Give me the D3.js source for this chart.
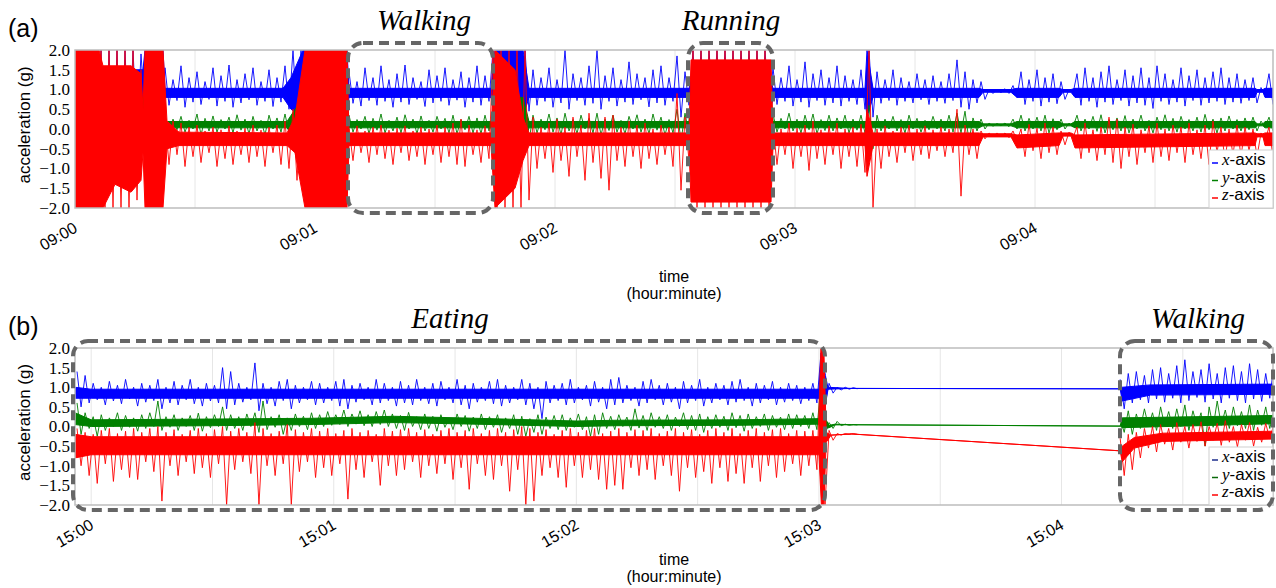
<!DOCTYPE html>
<html>
<head>
<meta charset="utf-8">
<script src="https://cdn.jsdelivr.net/npm/d3@7"></script>
<style>
body { margin: 0; background: #fff; }
svg text { font-family: "Liberation Sans", Arial, sans-serif; fill: #000; }
</style>
</head>
<body>
<div id="chart"></div>
<script>
// ---------- data: panel (a), 09:00 - 09:05, envelope per 2 s bin ----------
let aTickLabels = ['09:00', '09:01', '09:02', '09:03', '09:04'];
let bTickLabels = ['15:00', '15:01', '15:02', '15:03', '15:04'];
let tickSeconds = [0, 60, 120, 180, 240];
let yTicks = [2.0, 1.5, 1.0, 0.5, 0.0, -0.5, -1.0, -1.5, -2.0];

let aBlueHi = [2.0,2.0,2.0,2.0,2.0,2.0,2.0,2.0,1.9, 2.0,2.0,
  1.55,1.25,1.6,1.3,1.45,1.2,1.55,1.35,1.62,1.25,1.4,1.55,1.2,1.5,1.3,1.6, 2.0,2.0, 2.0,2.0,2.0,2.0,2.0,
  1.45,1.2,1.55,1.3,1.6,1.25,1.4,1.62,1.3,1.2,1.5,1.35,1.55,1.25,1.45,1.3,1.6,1.35,2.0, 2.0,2.0,2.0,2.0,
  1.5,1.3,1.55,1.25,2.0,1.4,1.3,1.6,2.0,1.35,1.55,1.25,1.7,1.4,1.3,1.5,1.6,1.3,1.85,1.45,
  2.0,2.0,2.0,2.0,2.0,2.0,2.0,2.0,2.0,2.0,
  1.55,1.3,1.6,1.25,1.7,1.4,1.5,1.3,1.6,1.35,1.25,1.5, 2.0,
  1.45,1.25,1.5,1.3,1.2,1.4,1.25,1.35,1.2,1.4,1.75,1.45,1.25, 1.2,1.0,1.0,1.02,1.1,
  1.45,1.25,1.5,1.3,1.4,1.2, 1.0,
  1.4,1.55,1.3,1.45,1.6,1.25,1.5,1.35,1.55,1.3,1.6,1.4,1.25,1.55,1.35,1.5,1.3,1.45,1.55,1.3,1.4,1.25,1.3, 1.05, 1.4];
let aBlueLo = [-1.0,-1.5,-1.6,-1.2,-0.8,-1.0,-0.5,-0.2,0.4, -1.0,-0.5,
  0.6,0.72,0.55,0.68,0.62,0.75,0.58,0.7,0.55,0.66,0.74,0.6,0.7,0.57,0.68,0.5, 0.3,0.25, -0.5,-1.0,-1.0,-0.8,0.0,
  0.65,0.58,0.72,0.6,0.7,0.55,0.68,0.62,0.75,0.57,0.66,0.7,0.6,0.73,0.55,0.68,0.6,0.7,0.3, 0.0,0.3,0.3,0.45,
  0.6,0.7,0.55,0.66,0.5,0.72,0.6,0.65,0.5,0.7,0.58,0.68,0.62,0.74,0.56,0.66,0.6,0.7,0.3,0.6,
  0.0,-0.5,0.5,0.2,0.0,-0.3,0.3,0.1,0.0,0.5,
  0.62,0.7,0.58,0.68,0.55,0.72,0.6,0.66,0.58,0.7,0.62,0.5, 0.3,
  0.65,0.72,0.6,0.7,0.66,0.74,0.62,0.7,0.65,0.72,0.55,0.5,0.66, 0.75,0.9,0.92,0.9,0.8,
  0.62,0.7,0.58,0.68,0.64,0.75, 0.9,
  0.6,0.7,0.55,0.68,0.62,0.72,0.58,0.66,0.6,0.52,0.7,0.62,0.68,0.58,0.72,0.6,0.66,0.7,0.62,0.68,0.65,0.72,0.66, 0.85, 0.62];
let aGreenHi = [1.0,0.8,0.5,0.6,0.3,0.5,0.4,0.6,0.5, 0.5,0.4,
  0.35,0.25,0.32,0.22,0.38,0.27,0.33,0.24,0.3,0.36,0.25,0.32,0.22,0.35,0.28,0.38, 0.4,0.35, 0.5,0.5,0.5,0.5,0.4,
  0.35,0.24,0.32,0.27,0.38,0.22,0.3,0.36,0.25,0.33,0.22,0.32,0.27,0.35,0.24,0.32,0.28,0.35,0.4, 0.5,0.5,0.4,0.4,
  0.35,0.25,0.38,0.28,0.4,0.24,0.35,0.27,0.4,0.25,0.35,0.22,0.32,0.36,0.25,0.38,0.3,0.24,0.5,0.4,
  0.5,0.5,0.5,0.5,0.5,0.5,0.5,0.5,0.5,0.5,
  0.38,0.27,0.4,0.25,0.35,0.38,0.24,0.35,0.28,0.35,0.25,0.35, 0.6,
  0.35,0.25,0.32,0.24,0.35,0.27,0.22,0.32,0.25,0.35,0.4,0.45,0.28, 0.25,0.15,0.14,0.15,0.25,
  0.35,0.27,0.3,0.35,0.26,0.25, 0.15,
  0.35,0.25,0.32,0.36,0.24,0.28,0.34,0.25,0.35,0.22,0.3,0.36,0.27,0.32,0.24,0.3,0.37,0.25,0.28,0.33,0.24,0.28,0.3, 0.2, 0.3];
let aGreenLo = [-1.0,-1.2,-0.8,-0.6,-0.9,-0.5,-0.4,-0.3,-0.2, -0.8,-0.5,
  -0.1,-0.02,-0.08,0.0,-0.15,-0.05,-0.08,0.0,-0.1,-0.03,-0.12,-0.05,-0.15,0.0,-0.08,-0.1, -0.15,-0.2, -0.8,-0.6,-0.6,-0.5,-0.3,
  -0.08,0.0,-0.12,-0.03,-0.1,-0.05,-0.1,0.0,-0.12,-0.05,-0.08,0.0,-0.1,-0.12,-0.02,-0.1,-0.12,-0.05,-0.2, -0.5,-0.5,-0.4,-0.3,
  -0.1,-0.02,-0.08,-0.15,-0.05,-0.12,0.0,-0.1,-0.15,-0.04,-0.08,-0.12,0.0,-0.08,-0.12,-0.03,-0.15,-0.1,-0.3,-0.15,
  -0.5,-0.5,-0.5,-0.5,-0.5,-0.5,-0.5,-0.5,-0.5,-0.5,
  -0.08,0.0,-0.05,-0.1,-0.02,-0.12,-0.04,-0.05,0.0,-0.1,-0.03,-0.1, -0.5,
  -0.05,0.0,-0.05,-0.1,0.0,-0.08,-0.02,0.0,-0.05,-0.08,-0.1,-0.3,-0.05, 0.0,0.07,0.08,0.06,0.0,
  -0.05,0.0,-0.05,-0.1,-0.02,0.0, 0.05,
  -0.05,0.0,-0.06,-0.1,-0.02,-0.05,-0.1,0.0,-0.05,-0.1,-0.02,-0.05,-0.08,0.0,-0.05,-0.08,-0.02,-0.1,-0.05,0.0,-0.05,-0.02,-0.05, 0.05, -0.05];
let aRedHi = [2.0,2.0,2.0,2.0,2.0,2.0,2.0,2.0,1.5, 2.0,2.0,
  0.35,0.2,0.15,0.05,0.1,-0.05,0.05,-0.02,0.08,-0.05,0.02,0.1,-0.03,0.05,0.1,0.2, 0.5,0.45, 2.0,2.0,2.0,2.0,2.0,
  0.0,0.08,-0.05,0.05,0.1,-0.03,0.02,0.08,-0.05,0.05,0.0,0.1,0.05,0.15,0.25,0.1,-0.02,0.08,2.0, 2.0,2.0,2.0,2.0,
  0.3,0.05,0.15,0.25,0.05,0.3,0.1,0.4,0.2,0.3,0.35,0.05,0.2,0.1,0.15,0.0,0.1,0.05,0.9,0.3,
  2.0,2.0,2.0,2.0,2.0,2.0,2.0,2.0,2.0,2.0,
  0.1,0.0,0.15,0.02,0.1,0.2,-0.02,0.08,0.15,0.0,0.05,0.12, 2.0,
  0.0,0.08,-0.05,0.05,0.1,0.0,0.08,-0.02,0.05,0.0,0.5,0.1,0.0, -0.05,-0.1,-0.1,-0.1,-0.05,
  0.0,0.12,0.02,0.15,0.05,-0.05, -0.08,
  0.05,0.15,-0.02,0.05,0.3,0.25,0.05,0.12,-0.02,0.08,0.15,0.0,0.1,0.05,0.15,-0.02,0.1,0.2,0.05,0.0,0.1,0.05,0.0, -0.1, 0.05];
let aRedLo = [-2.0,-2.0,-2.0,-2.0,-2.0,-2.0,-2.0,-1.8,-1.0, -2.0,-2.0,
  -0.9,-0.65,-0.95,-0.7,-0.85,-0.6,-0.95,-0.75,-0.9,-0.65,-0.85,-0.7,-0.95,-0.6,-0.9,-1.0, -1.3,-1.5, -2.0,-2.0,-2.0,-2.0,-2.0,
  -0.8,-0.6,-0.85,-0.65,-0.75,-0.9,-0.6,-0.8,-0.7,-0.9,-0.65,-0.85,-0.7,-0.9,-0.95,-0.65,-0.85,-0.75,-2.0, -2.0,-2.0,-2.0,-1.8,
  -1.0,-0.75,-1.1,-0.8,-1.2,-0.7,-1.3,-0.85,-1.25,-1.55,-0.8,-0.95,-0.7,-1.0,-0.75,-0.9,-0.65,-0.95,-1.55,-0.8,
  -2.0,-2.0,-2.0,-2.0,-2.0,-2.0,-2.0,-2.0,-2.0,-2.0,
  -0.9,-0.65,-1.0,-0.7,-1.05,-0.75,-0.9,-0.65,-1.0,-0.7,-0.95,-1.1, -2.0,
  -1.0,-0.7,-0.85,-0.6,-0.8,-0.65,-0.75,-0.55,-0.7,-0.6,-1.7,-0.65,-0.75, -0.25,-0.2,-0.2,-0.22,-0.3,
  -0.7,-0.55,-0.75,-0.6,-0.65,-0.4, -0.22,
  -0.75,-0.6,-0.8,-0.65,-0.85,-1.0,-0.7,-0.9,-0.6,-0.85,-0.7,-0.8,-0.6,-0.85,-0.65,-0.75,-0.9,-0.6,-0.8,-0.65,-0.7,-0.55,-0.7, -0.3, -0.7];

// dense band of each signal: [seconds, low, high]
let aBlueCore = [[0,0.0,1.5],[16.5,0.0,1.5],[17,0.5,1.5],[17.5,0.0,2.0],[22,0.0,2.0],[22.5,0.8,1.03],[52,0.8,1.03],[54,0.5,1.3],[57,0.3,2.0],[68,0.3,2.0],[68.5,0.8,1.03],[104,0.8,1.03],[105,0.3,2.0],[112,0.3,2.0],[113.5,0.8,1.03],[153.5,0.8,1.03],[154,0.5,1.2],[174,0.5,1.2],[174.5,0.8,1.03],[197.5,0.8,1.03],[198,0.3,2.0],[199.5,0.8,1.03],[226,0.8,1.03],[227,0.93,1.0],[234,0.93,1.0],[235.5,0.8,1.03],[246,0.8,1.03],[247,0.93,1.0],[249,0.93,1.0],[250,0.8,1.03],[295,0.8,1.03],[295.5,0.93,1.0],[297,0.93,1.0],[297.5,0.8,1.03],[299.5,0.8,1.03]];
let aGreenCore = [[0,-0.5,0.8],[22,-0.5,0.8],[22.5,0.03,0.19],[53,0.03,0.19],[57,-0.5,0.8],[68,-0.5,0.8],[68.5,0.03,0.19],[104,0.03,0.19],[105,-0.5,0.8],[112,-0.5,0.8],[113.5,0.03,0.19],[153.5,0.03,0.19],[154,-0.5,0.8],[174,-0.5,0.8],[174.5,0.03,0.19],[226,0.03,0.19],[227,0.08,0.13],[234,0.08,0.13],[235.5,0.03,0.19],[246,0.03,0.19],[247,0.08,0.13],[249,0.08,0.13],[250,0.03,0.19],[295,0.03,0.19],[295.5,0.08,0.13],[297,0.08,0.13],[297.5,0.03,0.19],[299.5,0.03,0.19]];
let aRedCore = [[0,-2.0,2.0],[6,-2.0,2.0],[7,-2.0,1.6],[10,-1.4,1.6],[14,-1.6,1.6],[16.5,-1.3,1.4],[17,-0.6,0.5],[17.5,-2.0,2.0],[22,-2.0,2.0],[23,-0.5,0.2],[26,-0.42,-0.08],[53,-0.42,-0.1],[55,-0.6,0.3],[57.5,-2.0,2.0],[68,-2.0,2.0],[68.5,-0.42,-0.1],[104,-0.42,-0.1],[105,-2.0,2.0],[110,-1.5,1.5],[112,-0.8,0.3],[113.5,-0.42,-0.1],[153.5,-0.42,-0.1],[154,-1.85,1.75],[174,-1.85,1.75],[174.5,-0.42,-0.1],[197.5,-0.42,-0.1],[198,-1.2,0.5],[199.5,-0.42,-0.1],[226,-0.42,-0.1],[227,-0.2,-0.12],[234,-0.2,-0.12],[235.5,-0.48,-0.15],[246,-0.42,-0.1],[247,-0.18,-0.1],[249,-0.18,-0.1],[250,-0.48,-0.15],[295,-0.42,-0.1],[295.5,-0.2,-0.12],[297,-0.2,-0.12],[297.5,-0.42,-0.1],[299.5,-0.42,-0.1]];

// ---------- data: panel (b), 15:00 - 15:05, bins start at -4 s ----------
let noData = [null,null,null,null,null,null,null,null,null,null,null,null,null,null,null,null,
  null,null,null,null,null,null,null,null,null,null,null,null,null,null,null,null];

let bBlueHi = [1.4,1.3,1.1,1.0,1.15,1.05,1.2,1.0,1.1,1.05, 1.2,1.0,1.15,1.05,1.2,1.0,1.1,1.05,1.5,1.4,
  1.1,1.0,1.62,1.1,1.0,1.15,1.2,1.05,1.0,1.15, 1.1,1.0,1.15,1.2,1.05,1.1,1.0,1.2,1.1,1.0,
  1.15,1.05,1.2,1.0,1.1,1.15,1.0,1.2,1.05,1.1, 1.0,1.15,1.2,1.05,1.0,1.2,1.1,1.0,1.15,1.05,
  1.1,1.2,1.0,1.05,1.15,1.0,1.2,1.25,1.05,1.0, 1.15,1.2,1.05,1.1,1.0,1.15,1.05,1.2,1.0,1.1,
  1.05,1.15,1.2,1.0,1.1,1.05,1.15,1.0,1.1,1.05, 1.0,1.1,1.87, 1.1,1.0,1.0,0.99,
  ...noData,
  1.2,1.35,1.4,1.3,1.45,1.5,1.35,1.55,1.7,1.4,1.45,1.6,1.35,1.5,1.55,1.4,1.6,1.45,1.35,1.55];
let bBlueLo = [0.5,0.6,0.68,0.55,0.65,0.58,0.7,0.52,0.62,0.66, 0.45,0.6,0.55,0.68,0.58,0.52,0.65,0.6,0.45,0.55,
  0.62,0.68,0.4,0.58,0.52,0.66,0.45,0.6,0.68,0.55, 0.6,0.66,0.52,0.45,0.62,0.68,0.55,0.6,0.66,0.52,
  0.6,0.55,0.66,0.58,0.52,0.68,0.6,0.55,0.45,0.62, 0.66,0.58,0.52,0.6,0.68,0.55,0.45,0.2,0.6,0.66,
  0.55,0.6,0.68,0.52,0.62,0.45,0.55,0.6,0.66,0.52, 0.6,0.68,0.55,0.62,0.45,0.6,0.66,0.52,0.6,0.68,
  0.55,0.62,0.66,0.52,0.6,0.68,0.55,0.62,0.66,0.58, 0.66,0.6,0.5, 0.85,0.93,0.95,0.96,
  ...noData,
  0.45,0.6,0.68,0.6,0.7,0.62,0.72,0.6,0.66,0.74,0.62,0.7,0.6,0.72,0.66,0.6,0.7,0.64,0.72,0.62];
let bGreenHi = [0.6,0.35,0.25,0.3,0.22,0.35,0.28,0.22,0.3,0.35, 0.65,0.25,0.3,0.22,0.28,0.34,0.25,0.3,0.5,0.3,
  0.25,0.32,0.35,0.65,0.25,0.3,0.22,0.32,0.26,0.35, 0.3,0.38,0.3,0.42,0.32,0.4,0.3,0.38,0.42,0.32,
  0.28,0.36,0.25,0.32,0.26,0.3,0.22,0.32,0.28,0.24, 0.32,0.25,0.3,0.22,0.3,0.26,0.2,0.3,0.24,0.28,
  0.3,0.22,0.32,0.25,0.3,0.35,0.26,0.3,0.24,0.45, 0.28,0.35,0.25,0.3,0.24,0.35,0.28,0.32,0.25,0.3,
  0.26,0.35,0.28,0.32,0.25,0.32,0.28,0.24,0.32,0.3, 0.28,0.35,1.1, 0.1,0.13,0.06,0.05,
  ...noData,
  0.2,0.4,0.32,0.45,0.35,0.5,0.38,0.45,0.55,0.4,0.35,0.5,0.65,0.42,0.5,0.38,0.55,0.42,0.5,0.4];
let bGreenLo = [-0.2,-0.05,-0.25,-0.1,0.0,-0.1,-0.02,-0.12,-0.05,0.0, -0.1,-0.02,-0.1,0.0,-0.1,-0.12,-0.03,0.0,-0.1,-0.05,
  -0.1,0.0,-0.15,-0.08,-0.02,-0.2,-0.1,0.0,-0.08,-0.05, 0.0,0.03,0.05,0.0,0.06,0.02,0.0,0.05,0.0,-0.05,
  -0.1,0.0,-0.08,-0.05,-0.12,-0.02,-0.08,0.0,-0.12,-0.05, -0.08,-0.02,-0.15,-0.05,-0.2,-0.25,-0.15,-0.2,-0.05,-0.08,
  -0.1,-0.02,-0.08,-0.25,-0.2,-0.05,-0.08,0.0,-0.1,-0.04, -0.1,-0.02,-0.05,-0.1,0.0,-0.08,-0.1,-0.15,-0.05,-0.02,
  -0.1,-0.03,-0.12,-0.05,0.0,-0.1,-0.02,-0.08,-0.05,0.0, -0.05,-0.08,-0.2, -0.05,0.02,0.03,0.04,
  ...noData,
  -0.15,-0.2,-0.05,0.0,-0.1,0.02,-0.05,0.0,-0.1,0.02,-0.5,-0.02,0.03,-0.05,0.02,-0.05,-0.1,0.03,-0.05,0.02];
let bRedHi = [-0.05,-0.15,-0.2,-0.1,-0.05,-0.18,-0.12,-0.05,-0.15,-0.05, 0.0,-0.15,-0.08,-0.2,-0.1,-0.05,-0.18,-0.08,0.0,-0.12,
  -0.05,-0.15,0.1,-0.05,-0.18,-0.12,0.05,-0.08,-0.15,-0.05, -0.12,-0.05,-0.18,-0.1,-0.05,-0.15,-0.1,-0.2,-0.05,-0.12,
  -0.08,-0.05,-0.15,-0.08,-0.2,-0.1,-0.05,-0.15,-0.1,-0.05, -0.18,-0.1,-0.05,-0.15,-0.08,0.0,-0.05,-0.15,-0.08,-0.2,
  -0.1,-0.05,-0.15,-0.1,-0.05,-0.18,-0.12,-0.05,-0.15,-0.08, -0.1,-0.05,-0.18,-0.12,-0.05,-0.15,-0.08,-0.2,-0.1,-0.05,
  -0.15,-0.05,-0.18,-0.1,-0.05,-0.15,-0.08,-0.05,-0.18,-0.1, -0.12,-0.1,2.0, -0.1,-0.18,-0.18,-0.18,
  ...noData,
  -0.3,-0.2,-0.15,-0.05,0.0,0.05,-0.05,0.1,0.0,0.05,0.12,0.0,0.08,0.15,0.0,0.05,0.1,-0.02,0.08,0.05];
let bRedLo = [-1.0,-1.25,-1.45,-0.95,-1.4,-1.1,-1.3,-1.35,-0.9,-1.15, -1.9,-1.0,-1.25,-0.9,-1.2,-1.05,-1.3,-0.95,-2.0,-1.1,
  -0.9,-1.2,-2.0,-1.0,-1.25,-0.95,-2.0,-1.15,-0.9,-1.3, -1.05,-1.25,-0.95,-1.85,-1.1,-1.3,-0.9,-1.5,-1.0,-1.25,
  -1.1,-0.9,-1.3,-1.0,-1.2,-0.95,-1.35,-1.05,-1.6,-0.95, -1.25,-1.35,-1.0,-1.65,-1.1,-2.0,-1.9,-1.25,-1.05,-1.3,
  -1.55,-1.0,-1.3,-1.1,-1.35,-1.6,-1.5,-1.6,-1.05,-1.25, -1.1,-1.35,-1.0,-1.25,-1.65,-1.05,-1.3,-1.15,-1.45,-1.05,
  -1.4,-1.2,-1.45,-1.05,-1.4,-1.0,-1.3,-1.15,-0.95,-1.25, -1.0,-1.1,-2.0, -0.35,-0.22,-0.2,-0.2,
  ...noData,
  -1.25,-1.1,-0.8,-0.55,-0.65,-0.45,-0.6,-0.4,-0.55,-0.38,-0.5,-0.35,-0.48,-0.4,-0.52,-0.35,-0.5,-0.4,-0.32,-0.45];

let bBlueCore = [[-4,0.72,1.0],[0,0.72,0.95],[180,0.72,0.95],[180.6,0.5,1.9],[181.6,0.6,1.3],[182.2,0.95,1.0],[188,0.97,0.97],[254.5,0.96,0.96],[255,0.65,1.0],[262,0.8,1.06],[292.3,0.82,1.08]];
let bGreenCore = [[-4,0.05,0.35],[0,0.0,0.17],[30,0.02,0.19],[55,0.05,0.21],[75,0.1,0.26],[95,0.06,0.21],[120,0.0,0.14],[130,0.02,0.16],[160,0.03,0.17],[180,0.06,0.2],[180.6,-0.1,1.1],[181.6,-0.05,0.2],[182.5,-0.03,0.03],[184,0.04,0.06],[188,0.045,0.045],[254.5,0.01,0.01],[255,-0.03,0.22],[292.3,0.07,0.28]];
let bRedCore = [[-4,-0.8,-0.2],[0,-0.72,-0.26],[180,-0.72,-0.26],[180.6,-2.0,2.0],[181.2,-2.0,2.0],[181.8,-0.4,-0.15],[183,-0.22,-0.22],[188,-0.19,-0.19],[254.5,-0.62,-0.62],[255,-0.9,-0.5],[258,-0.55,-0.28],[265,-0.38,-0.17],[292.3,-0.32,-0.12]];

// ---------- layout ----------
let svgWidth = 1276;
let svgHeight = 588;
let plotLeft = 75;
let plotRight = 1273;

let svg = d3.select('#chart')
    .append('svg')
    .attr('width', svgWidth)
    .attr('height', svgHeight);

let panels = [
    {
        name: 'a', tag: '(a)', top: 50, bottom: 208, domain: [0, 299.5], start: 0, step: 2,
        grid: [30, 60, 90, 120, 150, 180, 210, 240, 270], tickLabels: aTickLabels,
        timeY: [282, 299], legendTop: 150, legendColors: ['#0000ff', '#008000', '#ff0000'],
        series: [
            { color: '#0000ff', core: aBlueCore, hi: aBlueHi, lo: aBlueLo },
            { color: '#008000', core: aGreenCore, hi: aGreenHi, lo: aGreenLo },
            { color: '#ff0000', core: aRedCore, hi: aRedHi, lo: aRedLo }
        ],
        boxes: [
            { x0: 348, x1: 493, label: 'Walking', lx: 424 },
            { x0: 688, x1: 773, label: 'Running', lx: 731 }
        ]
    },
    {
        name: 'b', tag: '(b)', top: 348, bottom: 505, domain: [-4, 292.3], start: -4, step: 2,
        grid: [0, 30, 60, 90, 120, 150, 180, 210, 240, 270], tickLabels: bTickLabels,
        timeY: [565, 582], legendTop: 447, legendColors: ['#1c2e8c', '#0a6a0a', '#ff0000'],
        series: [
            { color: '#0000ff', core: bBlueCore, hi: bBlueHi, lo: bBlueLo },
            { color: '#008000', core: bGreenCore, hi: bGreenHi, lo: bGreenLo },
            { color: '#ff0000', core: bRedCore, hi: bRedHi, lo: bRedLo }
        ],
        boxes: [
            { x0: 73, x1: 825, label: 'Eating', lx: 450 },
            { x0: 1120, x1: 1273, label: 'Walking', lx: 1198 }
        ]
    }
];

function drawPanel(p) {
    let x = d3.scaleLinear().domain(p.domain).range([plotLeft, plotRight]);
    let y = d3.scaleLinear().domain([-2, 2]).range([p.bottom, p.top]);
    let g = svg.append('g');

    svg.append('clipPath').attr('id', 'clip' + p.name)
        .append('rect')
        .attr('x', plotLeft).attr('y', p.top)
        .attr('width', plotRight - plotLeft).attr('height', p.bottom - p.top);

    // light vertical grid every 30 s
    g.selectAll('.grid').data(p.grid).enter().append('line')
        .attr('x1', d => x(d)).attr('x2', d => x(d))
        .attr('y1', p.top).attr('y2', p.bottom)
        .attr('stroke', '#e6e6e6').attr('stroke-width', 1);

    let plot = g.append('g').attr('clip-path', `url(#clip${p.name})`);

    let area = d3.area()
        .x(d => x(d[0]))
        .y0(d => y(d[1]))
        .y1(d => y(d[2]));
    let line = d3.line()
        .defined(d => d[1] !== null)
        .x(d => x(d[0]))
        .y(d => y(d[1]));

    p.series.forEach(s => {
        if (s.hi.length !== s.lo.length) throw new Error('length mismatch ' + p.name);
        // dense band
        plot.append('path')
            .attr('d', area(s.core))
            .attr('fill', s.color)
            .attr('stroke', s.color)
            .attr('stroke-width', 1);
        // spikes: high then low in each bin
        let pts = [];
        s.hi.forEach((h, i) => {
            let t = p.start + p.step * i;
            pts.push([t + p.step * 0.25, h]);
            pts.push([t + p.step * 0.75, s.lo[i]]);
        });
        plot.append('path')
            .attr('d', line(pts))
            .attr('fill', 'none')
            .attr('stroke', s.color)
            .attr('stroke-width', 0.9)
            .attr('stroke-linejoin', 'round');
    });

    // frame
    g.append('rect')
        .attr('x', plotLeft).attr('y', p.top)
        .attr('width', plotRight - plotLeft).attr('height', p.bottom - p.top)
        .attr('fill', 'none').attr('stroke', '#bdbdbd').attr('stroke-width', 1.5);

    // y axis
    let yAxis = g.append('g')
        .attr('transform', `translate(${plotLeft}, 0)`)
        .call(d3.axisLeft(y).tickValues(yTicks).tickFormat(d3.format('.1f')).tickSize(0).tickPadding(5));
    yAxis.select('.domain').remove();
    yAxis.selectAll('text')
        .style('font-family', '"Liberation Serif", "Times New Roman", serif')
        .style('font-size', '17px');

    // x axis, rotated labels
    let xAxis = g.append('g')
        .attr('transform', `translate(0, ${p.bottom})`)
        .call(d3.axisBottom(x).tickValues(tickSeconds).tickFormat((d, i) => p.tickLabels[i]).tickSize(0));
    xAxis.select('.domain').remove();
    xAxis.selectAll('text')
        .attr('x', 0).attr('y', 0).attr('dy', 0)
        .style('text-anchor', 'end')
        .style('font-size', '16px')
        .attr('transform', 'translate(3, 23) rotate(-30)');

    // axis titles
    g.append('text')
        .attr('transform', `translate(30, ${(p.top + p.bottom) / 2 - 4}) rotate(-90)`)
        .attr('text-anchor', 'middle')
        .style('font-size', '17px')
        .text('acceleration (g)');
    g.append('text')
        .attr('x', 674).attr('y', p.timeY[0])
        .attr('text-anchor', 'middle').style('font-size', '16px')
        .text('time');
    g.append('text')
        .attr('x', 674).attr('y', p.timeY[1])
        .attr('text-anchor', 'middle').style('font-size', '16px')
        .text('(hour:minute)');
    g.append('text')
        .attr('x', 8).attr('y', p.top - 13)
        .style('font-size', '25px')
        .text(p.tag);

    // legend
    let leg = g.append('g').attr('transform', `translate(1209, ${p.legendTop})`);
    leg.append('rect')
        .attr('width', plotRight - 1209).attr('height', p.bottom - p.legendTop)
        .attr('fill', '#fff').attr('stroke', '#cfcfcf').attr('stroke-width', 1);
    ['x', 'y', 'z'].forEach((k, i) => {
        let base = 15 + i * 17.5;
        leg.append('line')
            .attr('x1', 3).attr('x2', 9)
            .attr('y1', base - 2).attr('y2', base - 2)
            .attr('stroke', p.legendColors[i]).attr('stroke-width', 1.5);
        let t = leg.append('text').attr('x', 13).attr('y', base).style('font-size', '17px');
        t.append('tspan')
            .style('font-family', '"Liberation Serif", serif')
            .style('font-style', 'italic')
            .text(k);
        t.append('tspan').text('-axis');
    });

    // activity boxes
    p.boxes.forEach(b => {
        g.append('rect')
            .attr('x', b.x0).attr('y', p.top - 7)
            .attr('width', b.x1 - b.x0).attr('height', p.bottom - p.top + 12)
            .attr('rx', 15).attr('ry', 15)
            .attr('fill', 'none')
            .attr('stroke', '#666')
            .attr('stroke-width', 4)
            .attr('stroke-dasharray', '10,6');
        g.append('text')
            .attr('x', b.lx).attr('y', p.top - 20)
            .attr('text-anchor', 'middle')
            .style('font-family', '"Liberation Serif", "Times New Roman", serif')
            .style('font-style', 'italic')
            .style('font-size', '29px')
            .text(b.label);
    });
}

panels.forEach(drawPanel);
</script>
</body>
</html>
